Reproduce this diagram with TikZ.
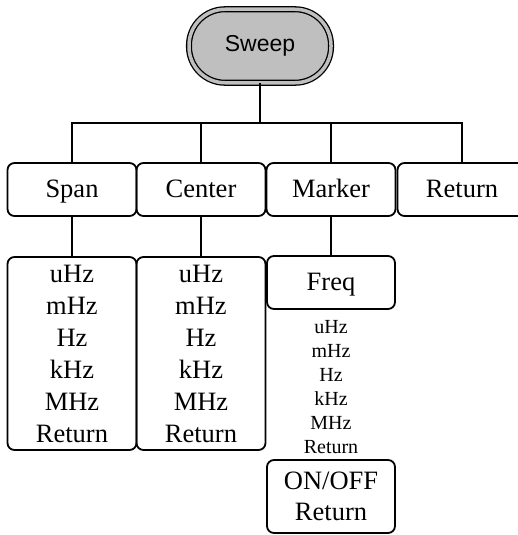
\documentclass[tikz,border=0pt]{standalone}
\usepackage{fontspec}
\setmainfont{Liberation Serif}
\setsansfont{Liberation Sans}
\usepackage{tikz}

\begin{document}
\begin{tikzpicture}[x=1pt, y=-1pt, line width=1.8pt,
    menu/.style={draw, rounded corners=7pt, minimum width=129pt, minimum height=53pt,
        inner sep=0pt, align=center, font=\fontsize{26.5}{32}\selectfont},
    item/.style={menu, text height=18pt, text depth=3pt},
    sublist/.style={inner sep=0pt, align=center, font=\fontsize{20}{24}\selectfont}]
    \useasboundingbox (0,0) rectangle (518,535);
    \node[draw, fill=black!25, double=black!25, double distance=3.5pt, line width=1.3pt,
        rounded corners=36pt, minimum width=142pt, minimum height=73.5pt,
        font=\sffamily\fontsize{23}{27}\selectfont] (sweep) at (260,46) {Sweep};
    \node[item] (span) at (72,189.5) {Span};
    \node[item] (center) at (201,189.5) {Center};
    \node[item] (marker) at (331,189.5) {Marker};
    \node[item] (back) at (462,189.5) {Return};
    \coordinate (bus) at (260,123);
    \draw (sweep) -- (bus);
    \draw (span) |- (bus) -| (back);
    \draw (center) -- (center |- bus);
    \draw (marker) -- (marker |- bus);
    \node[menu, minimum height=193pt] (spanlist) at (72,353.5) {uHz\\mHz\\Hz\\kHz\\MHz\\Return};
    \node[menu, minimum height=193pt] (centerlist) at (201,353.5) {uHz\\mHz\\Hz\\kHz\\MHz\\Return};
    \node[item, minimum width=128pt] (freq) at (331,282.5) {Freq};
    \node[sublist] (freqlist) at (331,387.5) {uHz\\mHz\\Hz\\kHz\\MHz\\Return};
    \node[menu, minimum width=128pt, minimum height=73pt, font=\fontsize{26.5}{31}\selectfont] (onoff) at (331,496.5) {ON/OFF\\Return};
    \draw (span) -- (spanlist);
    \draw (center) -- (centerlist);
    \draw (marker) -- (freq);
\end{tikzpicture}
\end{document}
